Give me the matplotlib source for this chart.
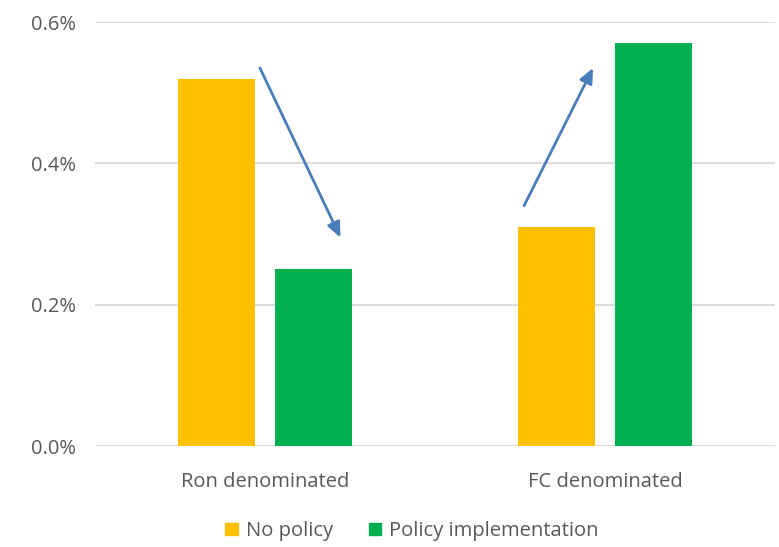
import matplotlib
matplotlib.use("Agg")
import matplotlib.pyplot as plt
import numpy as np
from matplotlib.patches import Patch

categories = ["Ron denominated", "FC denominated"]
no_policy = [0.52, 0.31]
policy_impl = [0.25, 0.57]
series_names = ["No policy", "Policy implementation"]
yticks = [0.0, 0.2, 0.4, 0.6]

# arrows showing the shift between scenarios: (x0, y0) -> (x1, y1)
arrows = [((-0.015, 0.535), (0.222, 0.295)),
          ((0.762, 0.340), (0.965, 0.535))]

plt.rcParams["font.family"] = ["Open Sans", "DejaVu Sans"]
text_color = "#595959"
fs = 14.5

fig = plt.figure(figsize=(7.79, 5.47), dpi=100)
ax = fig.add_axes([95 / 779, 101 / 547, 680 / 779, 424 / 547])

x = np.arange(len(categories))
w = 0.226
off = 0.143
ax.bar(x - off, no_policy, width=w, color="#FFC000", zorder=3)
ax.bar(x + off, policy_impl, width=w, color="#00B050", zorder=3)

for (x0, y0), (x1, y1) in arrows:
    ax.annotate("", xy=(x1, y1), xytext=(x0, y0),
                arrowprops=dict(arrowstyle="-|>,head_length=0.9,head_width=0.4",
                                color="#4A7EBB", lw=2, shrinkA=0, shrinkB=0),
                zorder=4)

ax.set_xlim(-0.5, 1.5)
ax.set_ylim(0, 0.6)
ax.set_yticks(yticks)
ax.set_yticklabels([f"{v:.1f}%" for v in yticks])
ax.set_xticks(x)
ax.set_xticklabels(categories)
ax.tick_params(axis="both", length=0, labelsize=fs, colors=text_color)
ax.tick_params(axis="y", pad=14)
ax.tick_params(axis="x", pad=19)
ax.grid(axis="y", color="#D9D9D9", lw=1.3, zorder=0)
for s in ax.spines.values():
    s.set_visible(False)

handles = [Patch(color="#FFC000"), Patch(color="#00B050")]
fig.legend(handles, series_names, loc="center", bbox_to_anchor=(412 / 779, 16 / 547),
           ncol=2, frameon=False, fontsize=fs, labelcolor=text_color,
           handlelength=0.6, handleheight=0.6, handletextpad=0.4, columnspacing=1.8)

fig.savefig("out.png", dpi=100)
